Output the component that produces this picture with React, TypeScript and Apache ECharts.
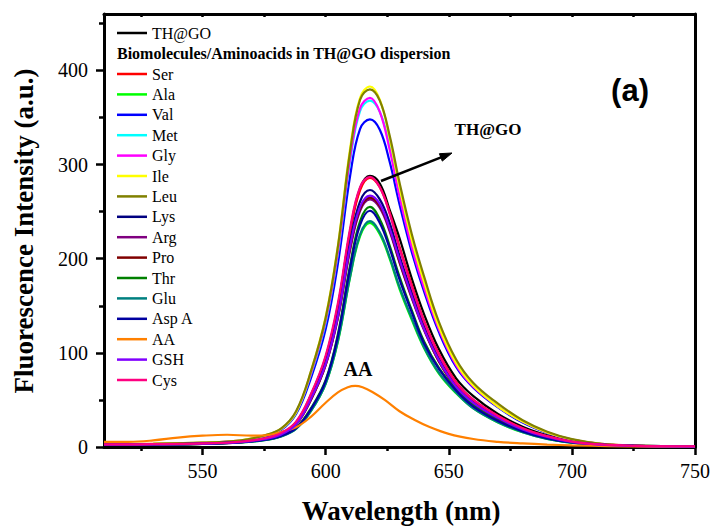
import React, { useEffect, useRef } from "react";
import * as echarts from "echarts";

// Shared wavelength grid (nm) for the amino-acid spectra
const wavelengths = [510, 530, 550, 565, 575, 582, 588, 594, 600, 605, 610, 614, 618, 622, 626, 630, 635, 640, 646, 653, 660, 670, 680, 690, 700, 712, 725, 750];

const thgo = [2.6, 2.9, 3.7, 5.5, 8.9, 14.4, 26, 55, 95, 150, 230, 275, 288, 280, 252, 222, 179, 141, 104, 73, 54, 35, 21.5, 12.3, 6.2, 2.7, 1.2, 0.6];
const ser = [2.6, 2.9, 3.7, 5.4, 8.9, 14.3, 26, 54, 94, 149, 229, 273, 286, 276, 249, 213, 172, 134, 99, 69, 50, 33, 20, 11.4, 5.7, 2.6, 1.1, 0.6];
const ala = [2.4, 2.6, 3.4, 4.8, 7.2, 11.4, 19.4, 38, 67, 112, 181, 224, 238, 226, 200, 168, 135, 105, 78, 57, 41, 26, 15.6, 8.5, 4.5, 2.1, 1.2, 0.7];
const val = [2.8, 3.1, 4.2, 6.3, 11.1, 18.1, 35, 73, 125, 195, 289, 338, 348, 337, 303, 258, 207, 165, 122, 85, 63, 42, 26, 15, 7.7, 3.1, 1.4, 0.7];
const met = [2.9, 3.3, 4.4, 6.6, 11.8, 19, 36.5, 77, 132, 206, 305, 357, 368, 356, 320, 268, 215, 172, 127, 89, 65, 43, 27, 15.5, 8, 3.2, 1.4, 0.7];
const gly = [3.0, 3.3, 4.5, 6.7, 11.9, 19.3, 37, 78, 134, 208, 308, 360, 371, 356, 316, 266, 212, 169, 125, 87, 64, 43, 27, 15.5, 8, 3.3, 1.5, 0.7];
const ile = [3.1, 3.5, 4.6, 6.9, 12, 19.5, 37, 80, 138, 214, 318, 371, 383, 369, 328, 276, 220, 175, 128, 89, 65, 43, 27, 15.5, 8, 3.3, 1.5, 0.8];
const leu = [3.0, 3.4, 4.6, 6.8, 12.2, 19.8, 38, 80, 137, 213, 315, 369, 380, 368, 331, 281, 226, 181, 133, 93, 68, 46, 28.5, 16.3, 8.4, 3.4, 1.5, 0.8];
const lys = [2.5, 2.7, 3.5, 5.2, 8.5, 13.7, 24.6, 52, 90, 142, 218, 261, 273, 263, 238, 203, 164, 128, 94, 66, 48, 31, 19, 11, 5.5, 2.5, 1.1, 0.5];
const arg = [2.4, 2.6, 3.4, 5, 8.2, 13.2, 23.7, 50, 87, 137, 210, 251, 263, 254, 229, 196, 158, 124, 91, 63, 46, 30, 18.4, 10.5, 5.3, 2.4, 1.1, 0.5];
const pro = [2.4, 2.7, 3.4, 5, 8.2, 13.3, 24, 50, 87, 138, 212, 253, 265, 256, 231, 197, 159, 125, 91, 64, 47, 30.5, 18.6, 10.6, 5.3, 2.4, 1.1, 0.5];
const thr = [2.6, 2.8, 3.6, 5.1, 7.7, 12, 20.4, 41, 71, 120, 194, 240, 255, 242, 214, 181, 145, 112, 84, 61, 44, 28, 16.8, 9.2, 4.8, 2.3, 1.3, 0.8];
const glu = [2.4, 2.6, 3.4, 4.8, 7.2, 11.3, 19.2, 38, 67, 113, 182, 226, 240, 228, 202, 170, 137, 106, 79, 58, 41, 26.4, 15.8, 8.6, 4.6, 2.2, 1.2, 0.7];
const aspA = [2.5, 2.8, 3.5, 5, 7.5, 11.8, 20, 40, 70, 118, 191, 236, 251, 238, 211, 178, 143, 110, 83, 60, 43, 27.6, 16.6, 9, 4.8, 2.3, 1.3, 0.8];
const gsh = [2.4, 2.7, 3.5, 5.1, 8.3, 13.4, 24, 51, 88, 139, 214, 255, 267, 258, 232, 199, 160, 125, 92, 64, 47, 31, 18.7, 10.7, 5.3, 2.4, 1.1, 0.5];
const cys = [2.7, 3.0, 3.8, 5.6, 9.2, 15, 27, 56, 97, 153, 233, 276, 287, 276, 248, 211, 170, 133, 98, 68, 50, 33, 20, 11.5, 5.8, 2.7, 1.3, 0.8];

// Ascorbic acid (AA) on its own wavelength grid
const aaWavelengths = [510, 520, 530, 540, 550, 560, 570, 576, 582, 588, 594, 600, 605, 609, 612, 615, 619, 624, 630, 636, 642, 650, 660, 670, 680, 690, 700, 715, 730, 750];
const aa = [5.5, 5.5, 7, 10, 12, 13, 12, 12.5, 16, 21, 32, 47, 58, 63.5, 65, 63.5, 58.5, 50, 38, 29, 21.5, 14, 8.5, 5.5, 3.8, 2.6, 1.8, 1, 0.6, 0.3];

const names = ["TH@GO", "Ser", "Ala", "Val", "Met", "Gly", "Ile", "Leu", "Lys", "Arg", "Pro", "Thr", "Glu", "Asp A", "AA", "GSH", "Cys"];
const colors = ["#000000", "#FF0000", "#00FF00", "#0000FF", "#00FFFF", "#FF00FF", "#FFFF00", "#808000", "#000080", "#800080", "#800000", "#008000", "#008080", "#0000A0", "#FF8000", "#8000FF", "#FF0080"];
const seriesValues = [thgo, ser, ala, val, met, gly, ile, leu, lys, arg, pro, thr, glu, aspA, aa, gsh, cys];

const xMajorTicks = [550, 600, 650, 700, 750];
const xMinorTicks = [525, 575, 625, 675, 725];
const xTopTicks = [525, 550, 575, 600, 625, 650, 675, 700, 725];
const yMajorTicks = [0, 100, 200, 300, 400];
const yMinorTicks = [50, 150, 250, 350, 450];

const SERIF = "Liberation Serif";
const SANS = "Liberation Sans";

export default function App() {
  const ref = useRef<HTMLDivElement>(null);
  useEffect(() => {
    if (!ref.current) return;
    const chart = echarts.init(ref.current, undefined, { renderer: "svg" });
    const series = names.map((name, i) => {
      const xs = name === "AA" ? aaWavelengths : wavelengths;
      return {
        name,
        type: "line",
        xAxisIndex: 0,
        yAxisIndex: 0,
        data: xs.map((w, j) => [w, seriesValues[i][j]]),
        showSymbol: false,
        smooth: 0.4,
        lineStyle: { color: colors[i], width: 2.2 },
        itemStyle: { color: colors[i] },
      };
    });
    const axisLineStyle = { color: "#000", width: 3 };
    const tickStyle = { color: "#000", width: 2.5 };
    const tickLabel = { fontFamily: SERIF, fontSize: 20, color: "#000" };
    chart.setOption({
      animation: false,
      backgroundColor: "#fff",
      color: colors,
      textStyle: { fontFamily: SERIF },
      grid: { left: 104, right: 16, top: 14, bottom: 80 },
      xAxis: [
        {
          type: "value",
          min: 510,
          max: 750,
          position: "bottom",
          axisLine: { show: true, onZero: false, lineStyle: axisLineStyle },
          axisTick: { show: true, length: 8, lineStyle: tickStyle, customValues: xMajorTicks },
          axisLabel: { ...tickLabel, margin: 14, customValues: xMajorTicks },
          splitLine: { show: false },
        },
        {
          type: "value",
          min: 510,
          max: 750,
          position: "bottom",
          axisLine: { show: false },
          axisTick: { show: true, length: 4, lineStyle: tickStyle, customValues: xMinorTicks },
          axisLabel: { show: false },
          splitLine: { show: false },
        },
        {
          type: "value",
          min: 510,
          max: 750,
          position: "top",
          axisLine: { show: true, onZero: false, lineStyle: axisLineStyle },
          axisTick: { show: true, inside: true, length: 3, lineStyle: tickStyle, customValues: xTopTicks },
          axisLabel: { show: false },
          splitLine: { show: false },
        },
      ],
      yAxis: [
        {
          type: "value",
          min: 0,
          max: 460,
          position: "left",
          axisLine: { show: true, onZero: false, lineStyle: axisLineStyle },
          axisTick: { show: true, length: 8, lineStyle: tickStyle, customValues: yMajorTicks },
          axisLabel: { ...tickLabel, margin: 16, customValues: yMajorTicks },
          splitLine: { show: false },
        },
        {
          type: "value",
          min: 0,
          max: 460,
          position: "left",
          axisLine: { show: false },
          axisTick: { show: true, length: 5, lineStyle: tickStyle, customValues: yMinorTicks },
          axisLabel: { show: false },
          splitLine: { show: false },
        },
        {
          type: "value",
          min: 0,
          max: 460,
          position: "right",
          axisLine: { show: true, onZero: false, lineStyle: axisLineStyle },
          axisTick: { show: false },
          axisLabel: { show: false },
          splitLine: { show: false },
        },
      ],
      legend: [
        {
          data: ["TH@GO"],
          left: 117,
          top: 24,
          orient: "vertical",
          icon: "rect",
          itemWidth: 30,
          itemHeight: 2.5,
          itemGap: 0,
          padding: 0,
          selectedMode: false,
          textStyle: { fontFamily: SERIF, fontSize: 16, color: "#000", lineHeight: 18 },
        },
        {
          data: names.slice(1),
          left: 117,
          top: 65,
          orient: "vertical",
          icon: "rect",
          itemWidth: 30,
          itemHeight: 2.5,
          itemGap: 2.4,
          padding: 0,
          selectedMode: false,
          textStyle: { fontFamily: SERIF, fontSize: 16, color: "#000", lineHeight: 18 },
        },
      ],
      graphic: [
        {
          type: "text",
          x: 401,
          y: 511,
          style: {
            text: "Wavelength (nm)",
            fontFamily: SERIF,
            fontWeight: "bold",
            fontSize: 27,
            fill: "#000",
            align: "center",
            verticalAlign: "middle",
          },
        },
        {
          type: "text",
          x: 24,
          y: 231,
          rotation: Math.PI / 2,
          style: {
            text: "Fluorescence Intensity (a.u.)",
            fontFamily: SERIF,
            fontWeight: "bold",
            fontSize: 27,
            fill: "#000",
            align: "center",
            verticalAlign: "middle",
          },
        },
        {
          type: "text",
          x: 117,
          y: 53,
          style: {
            text: "Biomolecules/Aminoacids in TH@GO dispersion",
            fontFamily: SERIF,
            fontWeight: "bold",
            fontSize: 16,
            fill: "#000",
            align: "left",
            verticalAlign: "middle",
          },
        },
        {
          type: "text",
          x: 630,
          y: 90,
          style: {
            text: "(a)",
            fontFamily: SANS,
            fontWeight: "bold",
            fontSize: 31,
            fill: "#000",
            align: "center",
            verticalAlign: "middle",
          },
        },
        {
          type: "text",
          x: 488,
          y: 129,
          style: {
            text: "TH@GO",
            fontFamily: SERIF,
            fontWeight: "bold",
            fontSize: 17,
            fill: "#000",
            align: "center",
            verticalAlign: "middle",
          },
        },
        {
          type: "text",
          x: 358,
          y: 369,
          style: {
            text: "AA",
            fontFamily: SERIF,
            fontWeight: "bold",
            fontSize: 20,
            fill: "#000",
            align: "center",
            verticalAlign: "middle",
          },
        },
        {
          type: "line",
          shape: { x1: 381, y1: 181, x2: 441, y2: 157.4 },
          style: { stroke: "#000", lineWidth: 2.5 },
          z: 100,
        },
        {
          type: "polygon",
          shape: { points: [[452, 153], [442.3, 161.1], [439.4, 153.7]] },
          style: { fill: "#000", stroke: "#000", lineWidth: 1 },
          z: 100,
        },
      ],
      series,
    });
    return () => chart.dispose();
  }, []);
  return (
    <div
      ref={ref}
      style={{ position: "fixed", left: 0, top: 0, width: 713, height: 527, background: "#fff" }}
    />
  );
}
